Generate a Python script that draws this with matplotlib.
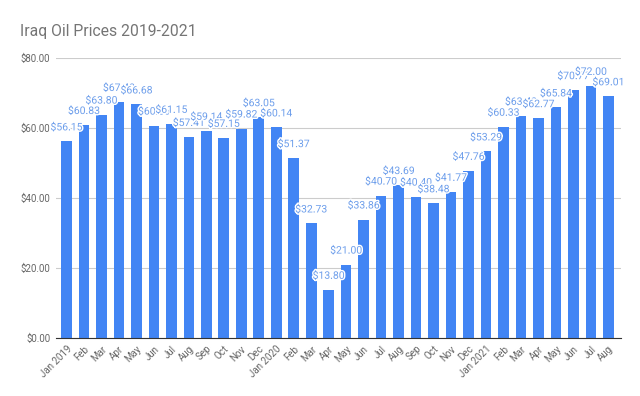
import matplotlib.pyplot as plt
import matplotlib.patheffects as pe

# monthly prices, Jan 2019 - Aug 2021
months = ["Jan 2019", "Feb", "Mar", "Apr", "May", "Jun", "Jul", "Aug", "Sep", "Oct", "Nov", "Dec",
          "Jan 2020", "Feb", "Mar", "Apr", "May", "Jun", "Jul", "Aug", "Sep", "Oct", "Nov", "Dec",
          "Jan 2021", "Feb", "Mar", "Apr", "May", "Jun", "Jul", "Aug"]
prices = [56.15, 60.83, 63.80, 67.40, 66.68, 60.66, 61.15, 57.41, 59.14, 57.15, 59.82, 63.05,
          60.14, 51.37, 32.73, 13.80, 21.00, 33.86, 40.70, 43.69, 40.40, 38.48, 41.77, 47.76,
          53.29, 60.33, 63.43, 62.77, 65.84, 70.77, 72.00, 69.01]
yticks = [0, 20, 40, 60, 80]

plt.rcParams['font.family'] = ['Roboto', 'DejaVu Sans']

fig = plt.figure(figsize=(6.4, 3.96), dpi=100)
ax = fig.add_axes([0.0875, 0.146, 0.883, 0.708])

x = range(len(prices))
ax.bar(x, prices, width=0.61, color='#4285f4', zorder=2)

# value labels above bars
for i, v in zip(x, prices):
    ax.annotate("$%.2f" % v, (i, v), xytext=(0, 6.5), textcoords='offset points',
                ha='center', va='bottom', fontsize=7.5, color='#6d9eeb', zorder=3,
                path_effects=[pe.withStroke(linewidth=2, foreground='white')])

ax.set_xlim(-0.6, len(prices) - 0.27)
ax.set_ylim(0, 80)
ax.set_yticks(yticks)
ax.set_yticklabels(["$%.2f" % t for t in yticks], fontsize=7, color='#666666')
ax.set_xticks(list(x))
ax.set_xticklabels(months, rotation=45, ha='right', rotation_mode='anchor',
                   fontsize=7, color='#666666')
ax.tick_params(length=0, pad=4)
ax.grid(axis='y', color='#cccccc', linewidth=0.8, zorder=0)
for s in ['top', 'right', 'left']:
    ax.spines[s].set_visible(False)
ax.spines['bottom'].set_color('#333333')
ax.spines['bottom'].set_linewidth(0.8)
ax.spines['bottom'].set_zorder(4)

fig.text(0.031, 0.91, "Iraq Oil Prices 2019-2021", fontsize=11.3, color='#757575')

fig.savefig("out.png", dpi=100)
